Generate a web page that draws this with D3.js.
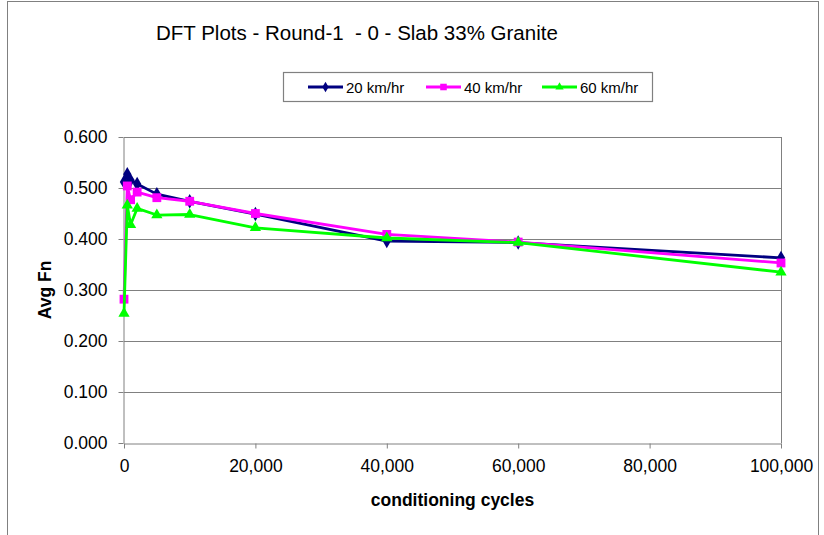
<!DOCTYPE html>
<html>
<head>
<meta charset="utf-8">
<script src="https://cdn.jsdelivr.net/npm/d3@7"></script>
<style>
  html, body { margin: 0; padding: 0; background: #fff; }
  svg { display: block; font-family: "Liberation Sans", Arial, sans-serif; }
</style>
</head>
<body>
<svg id="chart" width="824" height="535"></svg>
<script>
// Conditioning cycles at which DFT readings were taken
const cycles = [0, 500, 1000, 2000, 5000, 10000, 20000, 40000, 60000, 100000];

// Average friction number per test speed
const fn20 = [0.512, 0.527, 0.515, 0.508, 0.488, 0.474, 0.449, 0.396, 0.393, 0.363];
const fn40 = [0.282, 0.504, 0.477, 0.492, 0.481, 0.474, 0.450, 0.409, 0.394, 0.353];
const fn60 = [0.254, 0.466, 0.428, 0.460, 0.447, 0.448, 0.422, 0.402, 0.393, 0.335];

const seriesNames = ["20 km/hr", "40 km/hr", "60 km/hr"];
const xTicks = [0, 20000, 40000, 60000, 80000, 100000];
const yTicks = [0, 0.1, 0.2, 0.3, 0.4, 0.5, 0.6];

const titleText = "DFT Plots - Round-1  - 0 - Slab 33% Granite";
const xTitle = "conditioning cycles";
const yTitle = "Avg Fn";

const series = [
  { name: seriesNames[0], values: fn20, color: "#000080", symbol: d3.symbolDiamond, size: 60 },
  { name: seriesNames[1], values: fn40, color: "#FF00FF", symbol: d3.symbolSquare, size: 78 },
  { name: seriesNames[2], values: fn60, color: "#00FF00", symbol: d3.symbolTriangle, size: 55 }
];

const svg = d3.select("#chart");

// outer chart frame
svg.append("rect")
  .attr("x", 7.5).attr("y", 1.5)
  .attr("width", 811).attr("height", 545)
  .attr("fill", "none").attr("stroke", "#808080").attr("stroke-width", 1);

const plot = { left: 124, right: 781, top: 137, bottom: 443 };

const x = d3.scaleLinear().domain([0, 100000]).range([plot.left, plot.right]);
const y = d3.scaleLinear().domain([0, 0.6]).range([plot.bottom, plot.top]);

// horizontal gridlines
svg.append("g")
  .selectAll("line")
  .data(yTicks.filter(t => t > 0))
  .join("line")
  .attr("x1", plot.left).attr("x2", plot.right)
  .attr("y1", d => Math.round(y(d)) + 0.5).attr("y2", d => Math.round(y(d)) + 0.5)
  .attr("stroke", "#808080").attr("stroke-width", 1);

// right edge of the plot area
svg.append("line")
  .attr("x1", Math.round(x(100000)) + 0.5).attr("x2", Math.round(x(100000)) + 0.5)
  .attr("y1", plot.top).attr("y2", plot.bottom)
  .attr("stroke", "#808080");

// axes
const xAxis = d3.axisBottom(x)
  .tickValues(xTicks)
  .tickFormat(d3.format(","))
  .tickSizeInner(5).tickSizeOuter(0).tickPadding(11);
const yAxis = d3.axisLeft(y)
  .tickValues(yTicks)
  .tickFormat(d3.format(".3f"))
  .tickSizeInner(5).tickSizeOuter(0).tickPadding(11);

const gx = svg.append("g").attr("transform", `translate(0,${Math.round(plot.bottom) + 0.5})`).call(xAxis);
const gy = svg.append("g").attr("transform", `translate(${plot.left - 0.5},0)`).call(yAxis);

[gx, gy].forEach(g => {
  g.select(".domain").attr("stroke", "#808080");
  g.selectAll(".tick line").attr("stroke", "#808080");
  g.selectAll(".tick text")
    .attr("fill", "#000")
    .style("font-family", "'Liberation Sans', Arial, sans-serif")
    .style("font-size", "17.5px");
});

// series lines and markers
const line = d3.line()
  .x((d, i) => x(cycles[i]))
  .y(d => y(d));

series.forEach(s => {
  svg.append("path")
    .datum(s.values)
    .attr("d", line)
    .attr("fill", "none")
    .attr("stroke", s.color)
    .attr("stroke-width", 2.8)
    .attr("stroke-linejoin", "round");
  svg.append("g")
    .selectAll("path")
    .data(s.values)
    .join("path")
    .attr("transform", (d, i) => `translate(${x(cycles[i])},${y(d)})`)
    .attr("d", d3.symbol().type(s.symbol).size(s.size))
    .attr("fill", s.color);
});

// title
svg.append("text")
  .attr("x", 156).attr("y", 40)
  .attr("xml:space", "preserve")
  .style("white-space", "pre")
  .style("font-size", "20.5px")
  .attr("fill", "#000")
  .text(titleText);

// axis titles
svg.append("text")
  .attr("x", (plot.left + plot.right) / 2).attr("y", 506)
  .attr("text-anchor", "middle")
  .style("font-size", "17.5px").style("font-weight", "bold")
  .text(xTitle);

svg.append("text")
  .attr("transform", `translate(51,${(plot.top + plot.bottom) / 2}) rotate(-90)`)
  .attr("text-anchor", "middle")
  .style("font-size", "17.5px").style("font-weight", "bold")
  .text(yTitle);

// legend
const legend = svg.append("g");
legend.append("rect")
  .attr("x", 283.5).attr("y", 72.5)
  .attr("width", 369).attr("height", 29)
  .attr("fill", "#fff").attr("stroke", "#808080").attr("stroke-width", 1.2);

const legendX = [308, 426, 542];
series.forEach((s, i) => {
  const lx = legendX[i], ly = 87;
  legend.append("line")
    .attr("x1", lx).attr("x2", lx + 35)
    .attr("y1", ly).attr("y2", ly)
    .attr("stroke", s.color).attr("stroke-width", 2.8);
  legend.append("path")
    .attr("transform", `translate(${lx + 17.5},${ly})`)
    .attr("d", d3.symbol().type(s.symbol).size(s.size * 0.55))
    .attr("fill", s.color);
  legend.append("text")
    .attr("x", lx + 38).attr("y", ly + 5.5)
    .style("font-size", "15px")
    .attr("fill", "#000")
    .text(s.name);
});
</script>
</body>
</html>
